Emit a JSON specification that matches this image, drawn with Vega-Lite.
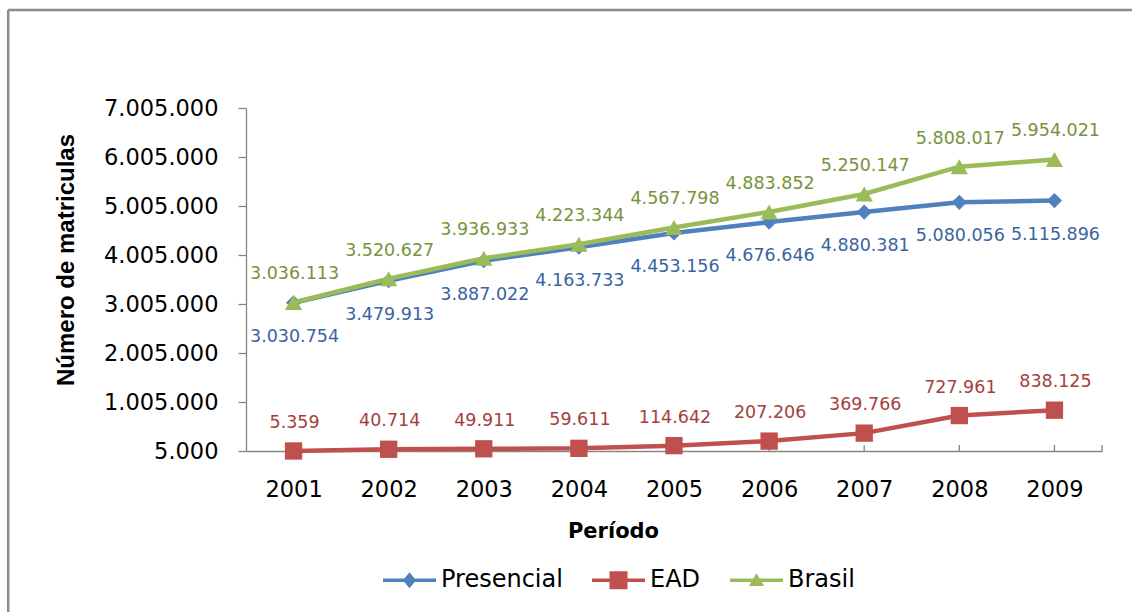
{
  "$schema": "https://vega.github.io/schema/vega-lite/v6.json",
  "width": 856,
  "height": 343,
  "autosize": {"type": "none"},
  "padding": {"left": 246, "top": 108, "right": 30, "bottom": 161},
  "background": "white",
  "config": {
    "view": {"stroke": null},
    "font": "DejaVu Sans",
    "locale": {"number": {"decimal": ",", "thousands": ".", "grouping": [3], "currency": ["R$ ", ""]}}
  },
  "datasets": {
    "matriculas": [
      {"ano": 2001, "serie": "Presencial", "valor": 3030754},
      {"ano": 2002, "serie": "Presencial", "valor": 3479913},
      {"ano": 2003, "serie": "Presencial", "valor": 3887022},
      {"ano": 2004, "serie": "Presencial", "valor": 4163733},
      {"ano": 2005, "serie": "Presencial", "valor": 4453156},
      {"ano": 2006, "serie": "Presencial", "valor": 4676646},
      {"ano": 2007, "serie": "Presencial", "valor": 4880381},
      {"ano": 2008, "serie": "Presencial", "valor": 5080056},
      {"ano": 2009, "serie": "Presencial", "valor": 5115896},
      {"ano": 2001, "serie": "EAD", "valor": 5359},
      {"ano": 2002, "serie": "EAD", "valor": 40714},
      {"ano": 2003, "serie": "EAD", "valor": 49911},
      {"ano": 2004, "serie": "EAD", "valor": 59611},
      {"ano": 2005, "serie": "EAD", "valor": 114642},
      {"ano": 2006, "serie": "EAD", "valor": 207206},
      {"ano": 2007, "serie": "EAD", "valor": 369766},
      {"ano": 2008, "serie": "EAD", "valor": 727961},
      {"ano": 2009, "serie": "EAD", "valor": 838125},
      {"ano": 2001, "serie": "Brasil", "valor": 3036113},
      {"ano": 2002, "serie": "Brasil", "valor": 3520627},
      {"ano": 2003, "serie": "Brasil", "valor": 3936933},
      {"ano": 2004, "serie": "Brasil", "valor": 4223344},
      {"ano": 2005, "serie": "Brasil", "valor": 4567798},
      {"ano": 2006, "serie": "Brasil", "valor": 4883852},
      {"ano": 2007, "serie": "Brasil", "valor": 5250147},
      {"ano": 2008, "serie": "Brasil", "valor": 5808017},
      {"ano": 2009, "serie": "Brasil", "valor": 5954021}
    ],
    "moldura": [
      {"x0": 1998, "x1": 1998, "y0": -4000000, "y1": 9005000, "tipo": "borda"},
      {"x0": 1998, "x1": 2012, "y0": 9005000, "y1": 9005000, "tipo": "borda"},
      {"x0": 2001, "x1": 2001, "y0": 5000, "y1": 127000, "tipo": "marca"},
      {"x0": 2002, "x1": 2002, "y0": 5000, "y1": 127000, "tipo": "marca"},
      {"x0": 2003, "x1": 2003, "y0": 5000, "y1": 127000, "tipo": "marca"},
      {"x0": 2004, "x1": 2004, "y0": 5000, "y1": 127000, "tipo": "marca"},
      {"x0": 2005, "x1": 2005, "y0": 5000, "y1": 127000, "tipo": "marca"},
      {"x0": 2006, "x1": 2006, "y0": 5000, "y1": 127000, "tipo": "marca"},
      {"x0": 2007, "x1": 2007, "y0": 5000, "y1": 127000, "tipo": "marca"},
      {"x0": 2008, "x1": 2008, "y0": 5000, "y1": 127000, "tipo": "marca"},
      {"x0": 2009, "x1": 2009, "y0": 5000, "y1": 127000, "tipo": "marca"},
      {"x0": 2009.5, "x1": 2009.5, "y0": 5000, "y1": 127000, "tipo": "marca"}
    ]
  },
  "layer": [
    {
      "data": {"name": "moldura"},
      "mark": {"type": "rule"},
      "encoding": {
        "x": {
          "field": "x0",
          "type": "quantitative",
          "scale": {"domain": [2000.5, 2009.5], "nice": false, "zero": false},
          "axis": {
            "values": [2001, 2002, 2003, 2004, 2005, 2006, 2007, 2008, 2009],
            "format": "d",
            "grid": false,
            "domainColor": "#868686",
            "domainWidth": 1.3,
            "ticks": false,
            "labelFont": "DejaVu Sans",
            "labelFontSize": 22.5,
            "labelColor": "#000000",
            "labelBaseline": "alphabetic",
            "labelPadding": 45,
            "labelFlush": false,
            "title": "Período",
            "titleFont": "DejaVu Sans",
            "titleFontSize": 21,
            "titleFontWeight": "bold",
            "titleColor": "#000000",
            "titleX": 367,
            "titleY": 86,
            "titleBaseline": "alphabetic",
            "titleAlign": "center"
          }
        },
        "x2": {"field": "x1"},
        "y": {
          "field": "y0",
          "type": "quantitative",
          "scale": {"domain": [5000, 7005000], "nice": false, "zero": false},
          "axis": {
            "values": [5000, 1005000, 2005000, 3005000, 4005000, 5005000, 6005000, 7005000],
            "format": ",.0f",
            "grid": false,
            "domainColor": "#868686",
            "domainWidth": 1.3,
            "tickSize": 8,
            "tickColor": "#868686",
            "tickWidth": 1.3,
            "labelFont": "DejaVu Sans",
            "labelFontSize": 22.5,
            "labelColor": "#000000",
            "labelPadding": 20,
            "title": "Número de matriculas",
            "titleFont": "Liberation Sans",
            "titleFontSize": 24,
            "titleFontWeight": "bold",
            "titleColor": "#000000",
            "titleAngle": -90,
            "titleX": -173,
            "titleY": 151.5,
            "titleBaseline": "alphabetic",
            "titleAlign": "center"
          }
        },
        "y2": {"field": "y1"},
        "stroke": {"field": "tipo", "type": "nominal", "scale": {"domain": ["borda", "marca"], "range": ["#8C8C8C", "#868686"]}, "legend": null},
        "strokeWidth": {"field": "tipo", "type": "nominal", "scale": {"domain": ["borda", "marca"], "range": [2.5, 1.3]}, "legend": null}
      }
    },
    {
      "data": {"name": "matriculas"},
      "encoding": {
        "x": {
          "field": "ano",
          "type": "quantitative",
          "axis": {
            "values": [2001, 2002, 2003, 2004, 2005, 2006, 2007, 2008, 2009],
            "format": "d",
            "grid": false,
            "domainColor": "#868686",
            "domainWidth": 1.3,
            "ticks": false,
            "labelFont": "DejaVu Sans",
            "labelFontSize": 22.5,
            "labelColor": "#000000",
            "labelBaseline": "alphabetic",
            "labelPadding": 45,
            "labelFlush": false,
            "title": "Período",
            "titleFont": "DejaVu Sans",
            "titleFontSize": 21,
            "titleFontWeight": "bold",
            "titleColor": "#000000",
            "titleX": 367,
            "titleY": 86,
            "titleBaseline": "alphabetic",
            "titleAlign": "center"
          }
        },
        "y": {
          "field": "valor",
          "type": "quantitative",
          "axis": {
            "values": [5000, 1005000, 2005000, 3005000, 4005000, 5005000, 6005000, 7005000],
            "format": ",.0f",
            "grid": false,
            "domainColor": "#868686",
            "domainWidth": 1.3,
            "tickSize": 8,
            "tickColor": "#868686",
            "tickWidth": 1.3,
            "labelFont": "DejaVu Sans",
            "labelFontSize": 22.5,
            "labelColor": "#000000",
            "labelPadding": 20,
            "title": "Número de matriculas",
            "titleFont": "Liberation Sans",
            "titleFontSize": 24,
            "titleFontWeight": "bold",
            "titleColor": "#000000",
            "titleAngle": -90,
            "titleX": -173,
            "titleY": 151.5,
            "titleBaseline": "alphabetic",
            "titleAlign": "center"
          }
        },
        "color": {
          "field": "serie",
          "type": "nominal",
          "scale": {"domain": ["Presencial", "EAD", "Brasil"], "range": ["#4F81BD", "#C0504D", "#9BBB59"]},
          "legend": {
            "orient": "none",
            "legendX": 137,
            "legendY": 445.5,
            "direction": "horizontal",
            "title": null,
            "padding": 0,
            "symbolSize": 2809,
            "labelFont": "DejaVu Sans",
            "labelFontSize": 24,
            "labelColor": "#000000",
            "labelOffset": 5,
            "columnPadding": 29,
            "encode": {
              "symbols": {
                "update": {
                  "shape": {"signal": "datum.value === 'Presencial' ? 'M-1,-0.07H1V0.07H-1Z M0,-0.3L0.25,0L0,0.3L-0.25,0Z' : datum.value === 'EAD' ? 'M-1,-0.07H1V0.07H-1Z M-0.34,-0.34H0.34V0.34H-0.34Z' : 'M-1,-0.07H1V0.07H-1Z M0,-0.26L0.29,0.22H-0.29Z'"},
                  "fill": {"signal": "scale('color', datum.value)"},
                  "strokeWidth": {"value": 0},
                  "opacity": {"value": 1}
                }
              }
            }
          }
        }
      },
      "layer": [
        {
          "transform": [{"filter": "datum.serie === 'Presencial'"}],
          "mark": {"type": "line", "strokeWidth": 4.5}
        },
        {
          "transform": [{"filter": "datum.serie === 'Presencial'"}],
          "mark": {"type": "point", "shape": "diamond", "filled": true, "opacity": 1, "size": 230}
        },
        {
          "transform": [{"filter": "datum.serie === 'EAD'"}],
          "mark": {"type": "line", "strokeWidth": 4.5}
        },
        {
          "transform": [{"filter": "datum.serie === 'EAD'"}],
          "mark": {"type": "point", "shape": "square", "filled": true, "opacity": 1, "size": 300}
        },
        {
          "transform": [{"filter": "datum.serie === 'Brasil'"}],
          "mark": {"type": "line", "strokeWidth": 4.5}
        },
        {
          "transform": [{"filter": "datum.serie === 'Brasil'"}],
          "mark": {"type": "point", "shape": "triangle-up", "filled": true, "opacity": 1, "size": 300}
        },
        {
          "transform": [{"filter": "datum.serie === 'Presencial'"}],
          "mark": {"type": "text", "dx": 1, "dy": 39, "baseline": "alphabetic", "font": "DejaVu Sans", "fontSize": 17.5},
          "encoding": {
            "text": {"field": "valor", "type": "quantitative", "format": ",.0f"},
            "color": {"value": "#3A64A0"}
          }
        },
        {
          "transform": [{"filter": "datum.serie === 'EAD'"}],
          "mark": {"type": "text", "dx": 1, "dy": -23, "baseline": "alphabetic", "font": "DejaVu Sans", "fontSize": 17.5},
          "encoding": {
            "text": {"field": "valor", "type": "quantitative", "format": ",.0f"},
            "color": {"value": "#A33F3C"}
          }
        },
        {
          "transform": [{"filter": "datum.serie === 'Brasil'"}],
          "mark": {"type": "text", "dx": 1, "dy": -23, "baseline": "alphabetic", "font": "DejaVu Sans", "fontSize": 17.5},
          "encoding": {
            "text": {"field": "valor", "type": "quantitative", "format": ",.0f"},
            "color": {"value": "#77933C"}
          }
        }
      ]
    }
  ]
}
